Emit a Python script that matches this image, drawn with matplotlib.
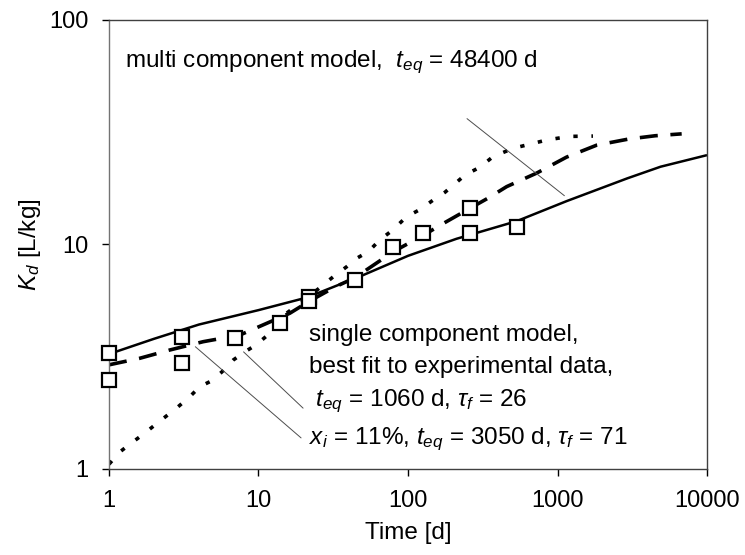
import numpy as np
import matplotlib
matplotlib.use("Agg")
import matplotlib.pyplot as plt

# Dados (tempo em dias, Kd em L/kg)
t_obs = [1, 1, 3.06, 3.06, 6.96, 13.9, 21.8, 21.8, 44.2, 79.7, 126.6, 260, 260, 533]
kd_obs = [3.29, 2.49, 3.88, 2.97, 3.85, 4.46, 5.85, 5.6, 6.95, 9.72, 11.2, 14.5, 11.3, 12.0]

# modelo multicomponente (linha cheia)
t_multi = [1, 2, 4, 10, 21, 50, 100, 211, 533, 1151, 2927, 4890, 10000]
kd_multi = [3.25, 3.8, 4.4, 5.1, 5.8, 7.3, 8.9, 10.6, 12.7, 15.6, 19.7, 22.2, 25.0]

# modelo de um componente, melhor ajuste (tracejada)
t_single = [1, 1.6, 2.56, 4.27, 7.5, 11.4, 16.2, 22, 33, 44, 80, 127, 172, 260, 344, 457, 726,
            1150, 1830, 3000, 4500, 6770]
kd_single = [2.91, 3.11, 3.39, 3.69, 3.95, 4.46, 4.94, 5.6, 6.5, 7.1, 9.3, 11.0, 12.4, 14.5, 16.1,
             18.1, 20.8, 24.5, 27.7, 29.5, 30.5, 31.1]

# modelo de um componente com x_i = 11% (pontilhada)
t_xi = [1, 1.18, 1.38, 1.70, 1.98, 2.31, 2.81, 3.45, 4.06, 4.74, 5.67, 6.79, 8.13, 9.63, 11.9,
        15.4, 22, 31.7, 38.9, 45.4, 54.3, 65, 77.8, 98, 120, 148, 177, 241, 303, 370, 504, 847,
        1200, 1727]
kd_xi = [1.05, 1.19, 1.29, 1.43, 1.55, 1.68, 1.86, 2.09, 2.33, 2.45, 2.70, 3.06, 3.33, 3.57, 4.02,
         4.94, 5.9, 7.19, 7.96, 8.68, 9.29, 10.5, 11.5, 13.3, 14.3, 15.8, 17.1, 20.4, 22.1, 24.6,
         26.8, 29.2, 30.3, 30.4]

x_ticks = [1, 10, 100, 1000, 10000]
y_ticks = [1, 10, 100]

plt.rcParams['font.family'] = ['Liberation Sans', 'DejaVu Sans']
plt.rcParams['mathtext.fontset'] = 'custom'
plt.rcParams['mathtext.rm'] = 'Liberation Sans'
plt.rcParams['mathtext.it'] = 'Liberation Sans:italic'

fig = plt.figure(figsize=(7.45, 5.55), dpi=100)
ax = fig.add_axes([0.1463, 0.155, 0.8027, 0.809])

ax.plot(t_multi, kd_multi, color='black', lw=1.8, solid_capstyle='butt')
ax.plot(t_single, kd_single, color='black', lw=2.6, linestyle=(0, (5, 3.5)))
ax.plot(t_xi, kd_xi, color='black', lw=2.6, linestyle=(0, (1.2, 3.8)))
ax.plot(t_obs, kd_obs, linestyle='none', marker='s', markersize=10.5,
        markerfacecolor='white', markeredgecolor='black', markeredgewidth=1.6,
        clip_on=False, zorder=5)

ax.set_xscale('log')
ax.set_yscale('log')
ax.set_xlim(1, 10000)
ax.set_ylim(1, 100)
ax.set_xticks(x_ticks)
ax.set_xticklabels([str(v) for v in x_ticks])
ax.set_yticks(y_ticks)
ax.set_yticklabels([str(v) for v in y_ticks])
ax.minorticks_off()
ax.tick_params(direction='out', length=5, width=1, labelsize=17, pad=10)

for s in ax.spines.values():
    s.set_linewidth(1.0)
    s.set_color('0.25')
ax.spines['left'].set_color('0.45')

ax.set_xlabel('Time [d]', fontsize=17.5, labelpad=7)
ax.set_ylabel(r'$K_d$ [L/kg]', fontsize=17.5, labelpad=4)

# textos e linhas de chamada
ax.text(0.027, 0.905, r'multi component model,  $t_{eq}$ = 48400 d', transform=ax.transAxes,
        fontsize=17.5, va='center', ha='left')
ax.annotate('', xy=(1150, 16.2), xytext=(240, 37),
            arrowprops=dict(arrowstyle='-', lw=0.7, color='0.3'))

txt = ('single component model,\n'
       'best fit to experimental data,\n'
       r' $t_{eq}$ = 1060 d, $\tau_f$ = 26' + '\n'
       r'$x_i$ = 11%, $t_{eq}$ = 3050 d, $\tau_f$ = 71')
ax.text(0.335, 0.322, txt, transform=ax.transAxes, fontsize=17.5, va='top', ha='left',
        linespacing=1.55)
ax.annotate('', xy=(7.7, 3.39), xytext=(20.5, 1.83),
            arrowprops=dict(arrowstyle='-', lw=0.7, color='0.3'))
ax.annotate('', xy=(3.66, 3.57), xytext=(19.9, 1.35),
            arrowprops=dict(arrowstyle='-', lw=0.7, color='0.3'))

fig.savefig('out.png', dpi=100, facecolor='white')
